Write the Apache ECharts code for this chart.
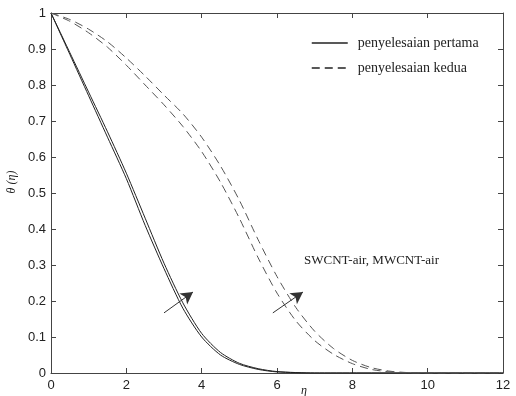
<!DOCTYPE html>
<html>
<head>
<meta charset="utf-8">
<script src="https://cdn.jsdelivr.net/npm/echarts@6/dist/echarts.min.js"></script>
<style>html,body{margin:0;padding:0;background:#fff;}#c{width:516px;height:396px;}</style>
</head>
<body>
<div id="c"></div>
<script>
// eta values and theta values for each curve
var solid1 = [[0,1],[0.5,0.885],[1,0.77],[1.5,0.655],[2,0.54],[2.5,0.41],[3,0.29],[3.5,0.18],[4,0.1],[4.5,0.05],[5,0.024],[5.5,0.01],[6,0.003],[7,0],[12,0]];
var solid2 = [[0,1],[0.5,0.89],[1,0.78],[1.5,0.67],[2,0.555],[2.5,0.43],[3,0.305],[3.5,0.195],[4,0.11],[4.5,0.057],[5,0.027],[5.5,0.012],[6,0.004],[7,0],[12,0]];
var dashed1 = [[0,1],[0.5,0.977],[1,0.945],[1.5,0.905],[2,0.855],[2.5,0.8],[3,0.745],[3.5,0.685],[4,0.615],[4.5,0.53],[5,0.43],[5.5,0.32],[6,0.222],[6.5,0.145],[7,0.09],[7.5,0.052],[8,0.026],[8.5,0.01],[9,0.003],[9.5,0],[12,0]];
var dashed2 = [[0,1],[0.5,0.982],[1,0.955],[1.5,0.92],[2,0.875],[2.5,0.825],[3,0.772],[3.5,0.72],[4,0.655],[4.5,0.575],[5,0.48],[5.5,0.37],[6,0.268],[6.5,0.182],[7,0.116],[7.5,0.068],[8,0.035],[8.5,0.015],[9,0.005],[9.5,0.001],[10,0],[12,0]];
var arrow1 = [[3.0,0.167],[3.77,0.225]];
var arrow2 = [[5.89,0.167],[6.69,0.225]];
var legendNames = ['penyelesaian pertama','penyelesaian kedua'];
var annotation = 'SWCNT-air, MWCNT-air';

var axisColor = '#444';
var chart = echarts.init(document.getElementById('c'), null, {renderer:'canvas'});
function lineSeries(name, data, type, color){
  return {type:'line', name:name, data:data, symbol:'none', smooth:0.25,
    lineStyle:{color:color, width:1, type:type}, itemStyle:{color:color}, z:3, silent:true};
}
function arrowLine(a){
  return [{coord:a[0], symbol:'none'},{coord:a[1], symbol:'arrow', symbolSize:[10,12]}];
}
var s1 = lineSeries(legendNames[0], solid1, 'solid', '#222');
s1.markLine = {silent:true, animation:false, symbol:['none','arrow'], label:{show:false},
  emphasis:{disabled:true},
  lineStyle:{color:'#333', width:1, type:'solid'},
  data:[arrowLine(arrow1), arrowLine(arrow2)]};
var common = {axisLine:{show:true,onZero:false,lineStyle:{color:axisColor,width:1}},
  axisTick:{show:true,inside:true,length:5,lineStyle:{color:axisColor}}, splitLine:{show:false}};
chart.setOption({
  animation:false,
  backgroundColor:'#fff',
  grid:{left:51,right:13,top:13,bottom:23},
  legend:{show:true, orient:'vertical', left:311, top:36, padding:0, itemWidth:36, itemHeight:14, itemGap:11,
    data:legendNames, selectedMode:false,
    itemStyle:{opacity:0},
    lineStyle:{width:1.5, color:'#222'},
    textStyle:{fontFamily:'Liberation Serif', fontSize:14, color:'#222', padding:[0,0,0,5]}},
  xAxis:[Object.assign({type:'value', min:0, max:12, interval:2, position:'bottom',
      axisLabel:{fontFamily:'Liberation Sans', fontSize:13, color:'#222', margin:6}}, common),
    Object.assign({type:'value', min:0, max:12, interval:2, position:'top', axisLabel:{show:false}}, common)],
  yAxis:[Object.assign({type:'value', min:0, max:1, interval:0.1, position:'left',
      axisLabel:{fontFamily:'Liberation Sans', fontSize:13, color:'#222', margin:5,
        formatter:function(v){return String(Math.round(v*10)/10);}}}, common),
    Object.assign({type:'value', min:0, max:1, interval:0.1, position:'right', axisLabel:{show:false}}, common)],
  graphic:[
    {type:'text', left:304, top:254, style:{text:annotation, font:'13px "Liberation Serif"', fill:'#222'}},
    {type:'text', left:301, top:385, style:{text:'η', font:'italic 12px "Liberation Serif"', fill:'#222'}},
    {type:'text', x:12, y:182, rotation:Math.PI/2, style:{text:'θ (η)', font:'italic 12px "Liberation Serif"', fill:'#222', align:'center', verticalAlign:'middle'}}
  ],
  series:[s1,
    lineSeries(legendNames[0], solid2, 'solid', '#222'),
    lineSeries(legendNames[1], dashed1, [8,5], '#555'),
    lineSeries(legendNames[1], dashed2, [8,5], '#555')]
});
</script>
</body>
</html>
